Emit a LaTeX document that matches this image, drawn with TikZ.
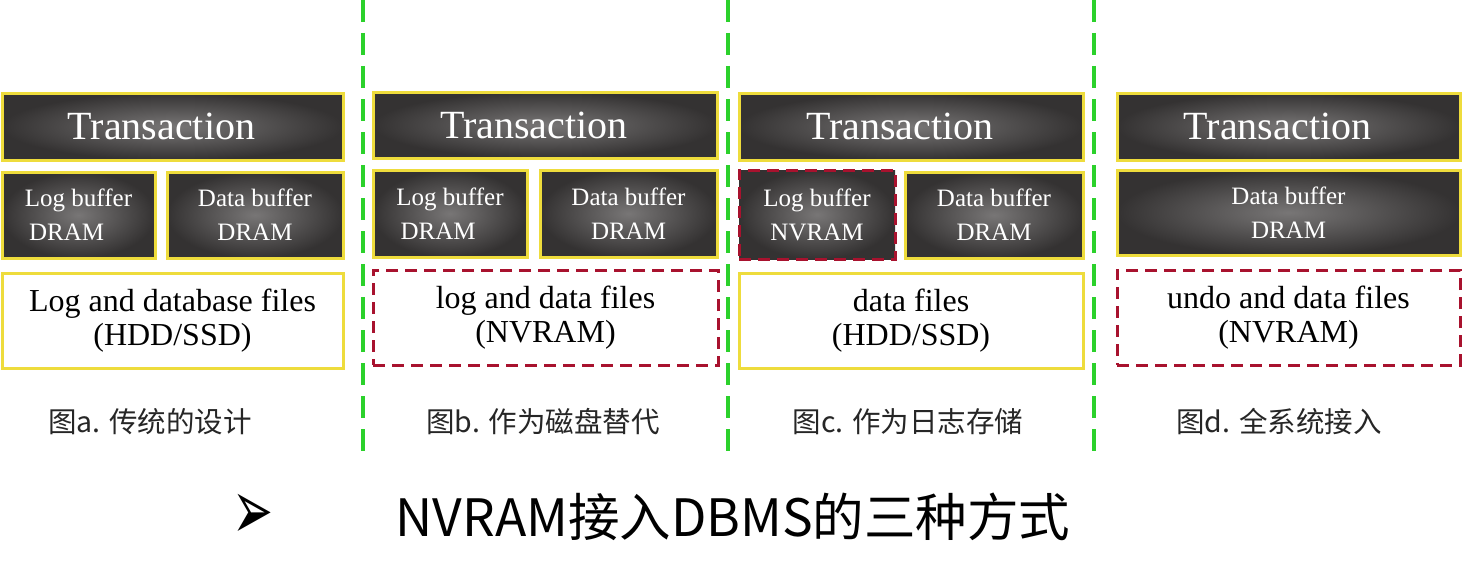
\documentclass[tikz,border=0pt]{standalone}
\usepackage{fontspec}
\usepackage{graphicx}
\setmainfont{Liberation Serif}
\newfontfamily\cjk{Noto Sans CJK SC}
\newfontfamily\dejavu{DejaVu Sans}
\definecolor{ybord}{HTML}{EEDC3C}
\definecolor{rdash}{HTML}{A8122E}
\definecolor{gdash}{HTML}{2BD12B}
\definecolor{dkin}{HTML}{787676}
\definecolor{dkout}{HTML}{343232}
\tikzset{
  darkbox/.style={draw=ybord, line width=3pt, inner color=dkin, outer color=dkout, text=white, inner sep=0pt},
  nvdark/.style={draw=rdash, line width=3pt, dash pattern=on 12pt off 7pt, inner color=dkin, outer color=dkout, text=white, inner sep=0pt},
  filebox/.style={draw=ybord, line width=3pt, fill=white, inner sep=0pt, text=black},
  nvfile/.style={draw=rdash, line width=3pt, dash pattern=on 12pt off 7pt, fill=white, inner sep=0pt, text=black},
  trtext/.style={font=\fontsize{40}{42}\selectfont},
  buftext/.style={font=\fontsize{25}{34}\selectfont},
  filetext/.style={font=\fontsize{32}{34}\selectfont},
  captext/.style={font=\cjk\fontsize{28.5}{32}\selectfont, text=black!85},
  sep/.style={draw=gdash, line width=3.5pt, dash pattern=on 22pt off 11pt}
}
\begin{document}
\begin{tikzpicture}[x=1pt,y=-1pt]
\useasboundingbox[fill=white] (0,0) rectangle (1462,586);
% separators
\coordinate (g1t) at (363,0); \coordinate (g1b) at (363,458);
\coordinate (g2t) at (728,0); \coordinate (g2b) at (728,458);
\coordinate (g3t) at (1094,0); \coordinate (g3b) at (1094,458);
\draw[sep] (g1t) -- (g1b);
\draw[sep] (g2t) -- (g2b);
\draw[sep] (g3t) -- (g3b);
% panel a
\node[darkbox, trtext, minimum width=341pt, minimum height=67pt] (ta) at (172.5,126.5) {Transaction\hspace*{22pt}};
\node[darkbox, buftext, align=left, minimum width=153pt, minimum height=86pt] (la) at (78.5,215) {Log buffer\\\,DRAM};
\node[darkbox, buftext, align=center, minimum width=176pt, minimum height=86pt] (da) at (255,215) {Data buffer\\DRAM};
\node[filebox, filetext, align=center, minimum width=341pt, minimum height=95pt] (fa) at (172.5,320.5) {Log and database files\\(HDD/SSD)};
% panel b
\node[darkbox, trtext, minimum width=344pt, minimum height=66pt] (tb) at (545,125) {Transaction\hspace*{22pt}};
\node[darkbox, buftext, align=left, minimum width=154pt, minimum height=87pt] (lb) at (450,213.5) {Log buffer\\\,DRAM};
\node[darkbox, buftext, align=center, minimum width=177pt, minimum height=87pt] (db) at (628.5,213.5) {Data buffer\\DRAM};
\node[nvfile, filetext, align=center, minimum width=345pt, minimum height=95pt] (fb) at (545.5,317.5) {log and data files\\(NVRAM)};
% panel c
\node[darkbox, trtext, minimum width=344pt, minimum height=67pt] (tc) at (911,126.5) {Transaction\hspace*{22pt}};
\node[nvdark, buftext, align=center, minimum width=156pt, minimum height=89pt] (lc) at (817,214.5) {Log buffer\\NVRAM};
\node[darkbox, buftext, align=center, minimum width=178pt, minimum height=86pt] (dc) at (994,215) {Data buffer\\DRAM};
\node[filebox, filetext, align=center, minimum width=344pt, minimum height=95pt] (fc) at (911,320.5) {data files\\(HDD/SSD)};
% panel d
\node[darkbox, trtext, minimum width=343pt, minimum height=67pt] (td) at (1288.5,126.5) {Transaction\hspace*{22pt}};
\node[darkbox, buftext, align=center, minimum width=343pt, minimum height=85pt] (dd) at (1288.5,212.5) {Data buffer\\DRAM};
\node[nvfile, filetext, align=center, minimum width=343pt, minimum height=95pt] (fd) at (1288.5,317.5) {undo and data files\\(NVRAM)};
% captions
\node[captext] (ca) at (150,422) {图a. 传统的设计};
\node[captext] (cb) at (543,422) {图b. 作为磁盘替代};
\node[captext] (cc) at (908,422) {图c. 作为日志存储};
\node[captext] (cd) at (1279,422) {图d. 全系统接入};
% title
\node[font=\dejavu\fontsize{36}{40}\selectfont, inner sep=0pt] (bul) at (253,517) {\scalebox{1.36}[2.36]{➢}};
\node[font=\cjk\fontsize{51.5}{56}\selectfont, inner sep=0pt] (title) at (733,517) {NVRAM接入DBMS的三种方式};
\end{tikzpicture}
\end{document}
